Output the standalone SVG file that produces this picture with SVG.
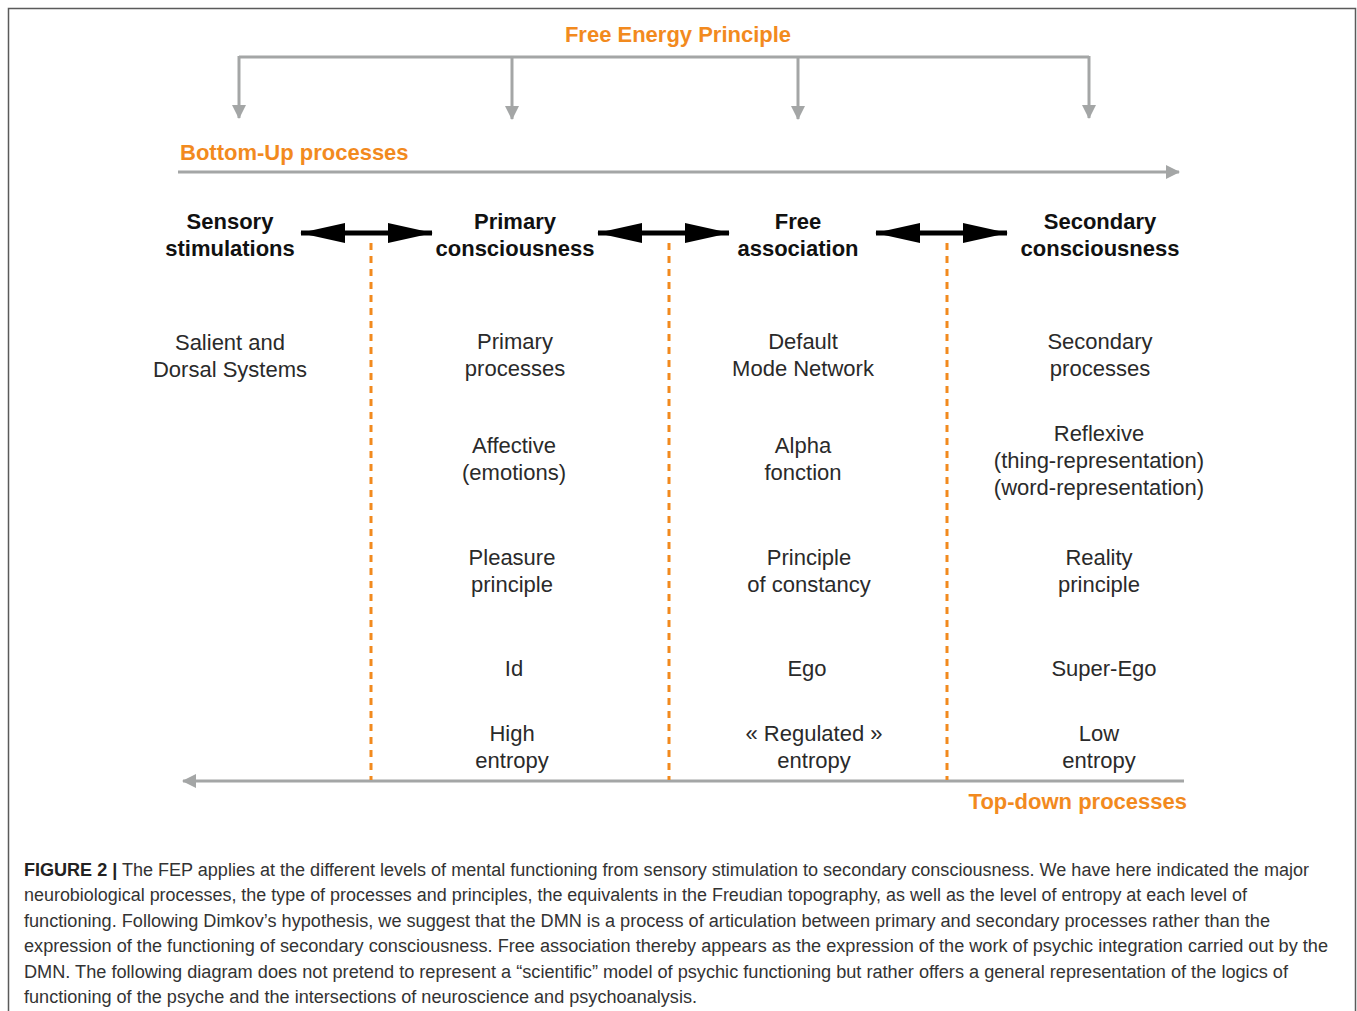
<svg xmlns="http://www.w3.org/2000/svg" width="1357" height="1011" viewBox="0 0 1357 1011">
<style>
.frame{fill:none;stroke:#5a5a5a;stroke-width:1.5}
.gray{fill:none;stroke:#a4a6a6;stroke-width:3}
.grayhead{fill:#a4a6a6}
.dash{fill:none;stroke:#f28a1e;stroke-width:3;stroke-dasharray:7 6}
.black{fill:none;stroke:#000;stroke-width:5}
.orange{font-family:"Liberation Sans",Arial,sans-serif;font-weight:bold;font-size:22px;fill:#f28a1e}
.hdr{font-family:"Liberation Sans",Arial,sans-serif;font-weight:bold;font-size:22px;fill:#111;text-anchor:middle}
.body{font-family:"Liberation Sans",Arial,sans-serif;font-size:22px;fill:#2a2a2a;text-anchor:middle}
.cap{font-family:"Liberation Sans",Arial,sans-serif;font-size:18px;fill:#333}
.capb{font-weight:bold;fill:#222}
</style>
<defs>
<marker id="gh" viewBox="0 0 14 14" refX="13" refY="7" markerWidth="14" markerHeight="14" markerUnits="userSpaceOnUse" orient="auto">
<path d="M0,0 L14,7 L0,14 Z" class="grayhead"/>
</marker>
<marker id="bh" viewBox="0 0 45 20" refX="44" refY="10" markerWidth="45" markerHeight="20" markerUnits="userSpaceOnUse" orient="auto-start-reverse">
<path d="M0,0 L45,10 L0,20 Z" fill="#000"/>
</marker>
</defs>
<path class="frame" d="M8.5,1015 V8.5 H1355.5 V1015"/>

<g id="connectors">
<path class="gray" d="M239,57 H1089"/>
<line class="gray" x1="239" y1="56" x2="239" y2="118" marker-end="url(#gh)"/>
<line class="gray" x1="512" y1="56" x2="512" y2="119" marker-end="url(#gh)"/>
<line class="gray" x1="798" y1="56" x2="798" y2="119" marker-end="url(#gh)"/>
<line class="gray" x1="1089" y1="56" x2="1089" y2="118" marker-end="url(#gh)"/>
<line class="gray" x1="178" y1="172" x2="1179" y2="172" marker-end="url(#gh)"/>
<line class="gray" x1="1184" y1="781" x2="183" y2="781" marker-end="url(#gh)"/>
<line class="black" x1="301" y1="233" x2="432" y2="233" marker-start="url(#bh)" marker-end="url(#bh)"/>
<line class="black" x1="598" y1="233" x2="729" y2="233" marker-start="url(#bh)" marker-end="url(#bh)"/>
<line class="black" x1="876" y1="233" x2="1007" y2="233" marker-start="url(#bh)" marker-end="url(#bh)"/>
<line class="dash" x1="371" y1="243" x2="371" y2="780"/>
<line class="dash" x1="669" y1="243" x2="669" y2="780"/>
<line class="dash" x1="947" y1="243" x2="947" y2="780"/>
</g>

<g id="fep"><text class="orange" x="678" y="42" text-anchor="middle">Free Energy Principle</text></g>
<g id="bottomup"><text class="orange" x="180" y="160">Bottom-Up processes</text></g>
<g id="topdown"><text class="orange" x="1187" y="809" text-anchor="end">Top-down processes</text></g>

<g id="sensory">
<text class="hdr" x="230" y="229">Sensory</text>
<text class="hdr" x="230" y="256">stimulations</text>
<text class="body" x="230" y="350">Salient and</text>
<text class="body" x="230" y="377">Dorsal Systems</text>
</g>

<g id="primary">
<text class="hdr" x="515" y="229">Primary</text>
<text class="hdr" x="515" y="256">consciousness</text>
<text class="body" x="515" y="349">Primary</text>
<text class="body" x="515" y="376">processes</text>
<text class="body" x="514" y="453">Affective</text>
<text class="body" x="514" y="480">(emotions)</text>
<text class="body" x="512" y="565">Pleasure</text>
<text class="body" x="512" y="592">principle</text>
<text class="body" x="514" y="676">Id</text>
<text class="body" x="512" y="741">High</text>
<text class="body" x="512" y="768">entropy</text>
</g>

<g id="free">
<text class="hdr" x="798" y="229">Free</text>
<text class="hdr" x="798" y="256">association</text>
<text class="body" x="803" y="349">Default</text>
<text class="body" x="803" y="376">Mode Network</text>
<text class="body" x="803" y="453">Alpha</text>
<text class="body" x="803" y="480">fonction</text>
<text class="body" x="809" y="565">Principle</text>
<text class="body" x="809" y="592">of constancy</text>
<text class="body" x="807" y="676">Ego</text>
<text class="body" x="814" y="741">« Regulated »</text>
<text class="body" x="814" y="768">entropy</text>
</g>

<g id="secondary">
<text class="hdr" x="1100" y="229">Secondary</text>
<text class="hdr" x="1100" y="256">consciousness</text>
<text class="body" x="1100" y="349">Secondary</text>
<text class="body" x="1100" y="376">processes</text>
<text class="body" x="1099" y="441">Reflexive</text>
<text class="body" x="1099" y="468">(thing-representation)</text>
<text class="body" x="1099" y="495">(word-representation)</text>
<text class="body" x="1099" y="565">Reality</text>
<text class="body" x="1099" y="592">principle</text>
<text class="body" x="1104" y="676">Super-Ego</text>
<text class="body" x="1099" y="741">Low</text>
<text class="body" x="1099" y="768">entropy</text>
</g>

<g id="caption">
<text class="cap" x="24" y="876" textLength="1285" lengthAdjust="spacingAndGlyphs"><tspan class="capb">FIGURE 2 |</tspan> The FEP applies at the different levels of mental functioning from sensory stimulation to secondary consciousness. We have here indicated the major</text>
<text class="cap" x="24" y="901" textLength="1223" lengthAdjust="spacingAndGlyphs">neurobiological processes, the type of processes and principles, the equivalents in the Freudian topography, as well as the level of entropy at each level of</text>
<text class="cap" x="24" y="927" textLength="1246" lengthAdjust="spacingAndGlyphs">functioning. Following Dimkov’s hypothesis, we suggest that the DMN is a process of articulation between primary and secondary processes rather than the</text>
<text class="cap" x="24" y="952" textLength="1304" lengthAdjust="spacingAndGlyphs">expression of the functioning of secondary consciousness. Free association thereby appears as the expression of the work of psychic integration carried out by the</text>
<text class="cap" x="24" y="978" textLength="1264" lengthAdjust="spacingAndGlyphs">DMN. The following diagram does not pretend to represent a “scientific” model of psychic functioning but rather offers a general representation of the logics of</text>
<text class="cap" x="24" y="1003" textLength="673" lengthAdjust="spacingAndGlyphs">functioning of the psyche and the intersections of neuroscience and psychoanalysis.</text>
</g>
</svg>
